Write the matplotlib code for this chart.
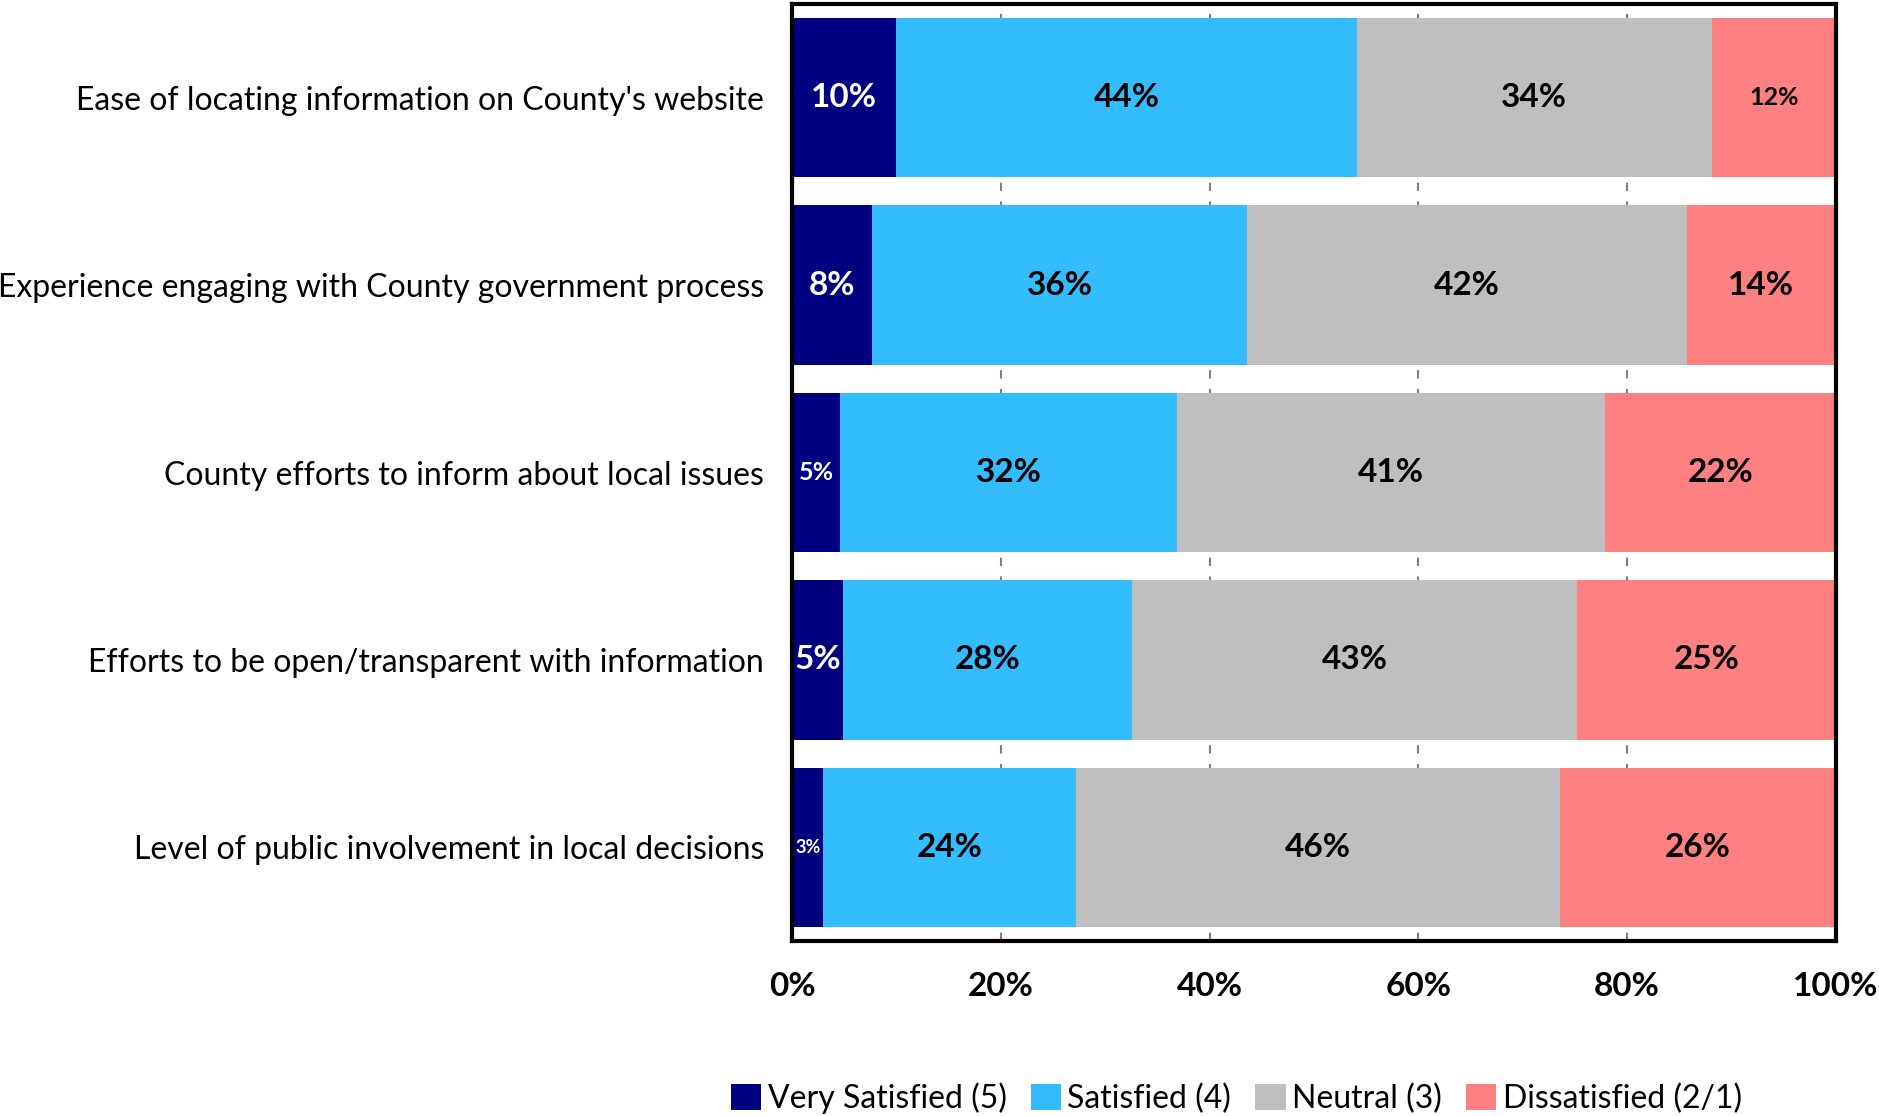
import numpy as np
import matplotlib.pyplot as plt

plt.rcParams['font.family'] = ['Lato', 'DejaVu Sans']

# survey items, top to bottom
items = ["Ease of locating information on County's website",
         "Experience engaging with County government process",
         "County efforts to inform about local issues",
         "Efforts to be open/transparent with information",
         "Level of public involvement in local decisions"]

# percent of respondents per rating
very_satisfied = [10.0, 7.7, 4.6, 4.9, 3.0]
satisfied = [44.1, 35.9, 32.3, 27.7, 24.2]
neutral = [34.0, 42.1, 41.0, 42.6, 46.4]
dissatisfied = [11.9, 14.3, 22.1, 24.8, 26.4]

series = [("Very Satisfied (5)", very_satisfied, "#000080", "white"),
          ("Satisfied (4)", satisfied, "#33BDFF", "black"),
          ("Neutral (3)", neutral, "#BFBFBF", "black"),
          ("Dissatisfied (2/1)", dissatisfied, "#FF8080", "black")]

# labels that get a smaller font
small = {(0, 3): 18, (2, 0): 18, (4, 0): 13}

fig = plt.figure(figsize=(18.79, 11.16), dpi=100)
ax = fig.add_axes([0.4215, 0.1568, 0.5556, 0.8396])

y = np.arange(len(items))
left = np.zeros(len(items))
for j, (name, vals, col, tcol) in enumerate(series):
    vals = np.array(vals)
    ax.barh(y, vals, left=left, height=0.85, color=col, label=name, zorder=2)
    for i, v in enumerate(vals):
        fs = small.get((i, j), 24)
        ax.text(left[i] + v / 2, y[i], '%.0f%%' % v, ha='center', va='center',
                color=tcol, fontsize=fs, fontweight='bold', zorder=3)
    left += vals

ax.set_xlim(0, 100)
ax.set_ylim(4.5, -0.5)
ax.set_yticks(y)
ax.set_yticklabels(items, fontsize=23)
ax.set_xticks(np.arange(0, 101, 20))
ax.set_xticklabels(['%d%%' % t for t in range(0, 101, 20)], fontsize=24, fontweight='bold')
ax.tick_params(axis='y', length=0, pad=20)
ax.tick_params(axis='x', length=0, pad=22)
ax.xaxis.grid(True, color='#808080', linestyle=(0, (4, 5)), linewidth=1.5, zorder=0)
ax.set_axisbelow(True)
for s in ax.spines.values():
    s.set_linewidth(3)

fig.legend(loc='center', bbox_to_anchor=(0.658, 0.016), ncol=4, frameon=False,
           fontsize=23, handlelength=0.95, handleheight=0.9, handletextpad=0.2,
           columnspacing=0.75)

fig.savefig('out.png', dpi=100)
